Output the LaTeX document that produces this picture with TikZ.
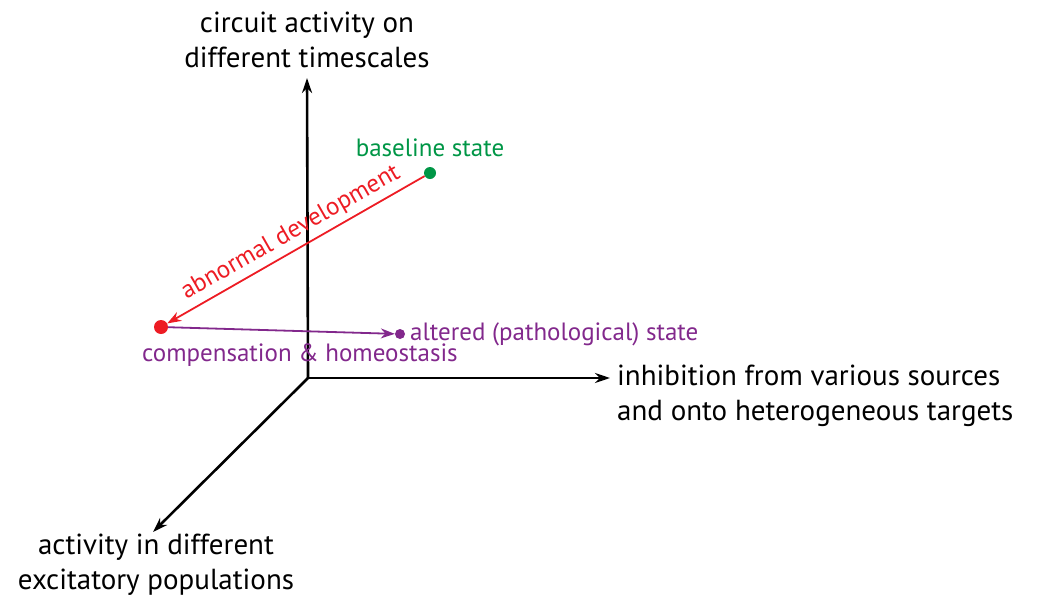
\documentclass[tikz,border=0pt]{standalone}
\usepackage{fontspec}
\setmainfont{PT Sans}
\usetikzlibrary{arrows.meta}
\definecolor{cgreen}{RGB}{0,150,70}
\definecolor{cred}{RGB}{237,28,36}
\definecolor{cpurple}{RGB}{130,40,140}
\begin{document}
\begin{tikzpicture}[x=1pt,y=-1pt,
  axis/.style={line width=2.6pt,-{Stealth[length=15pt,width=10pt]}},
  lbl/.style={font=\fontsize{29}{35}\selectfont,inner sep=0pt},
  clbl/.style={font=\fontsize{25}{30}\selectfont,inner sep=0pt},
  dot/.style={circle,inner sep=0pt,minimum size=#1},
  trans/.style={line width=1.8pt,-{Stealth[length=14pt,width=10pt]}}]
\useasboundingbox (0,0) rectangle (1037,600);
\coordinate (O) at (308,378);
\coordinate (Ytop) at (307,78);
\coordinate (Xend) at (610,378);
\coordinate (Zend) at (153,532);
\draw[axis] (O) -- (Ytop);
\draw[axis] (O) -- (Xend);
\draw[axis] (O) -- (Zend);
\node[lbl,align=center,anchor=south] (ylab) at (307,68) {circuit activity on\\different timescales};
\node[lbl,align=left,anchor=west] (xlab) at (617,396) {inhibition from various sources\\and onto heterogeneous targets};
\node[lbl,align=center,anchor=north] (zlab) at (156,534) {activity in different\\excitatory populations};
\node[dot=12pt,fill=cgreen] (base) at (430,173) {};
\node[dot=14pt,fill=cred] (abn) at (161,327) {};
\node[dot=10pt,fill=cpurple] (alt) at (400,334) {};
\node[clbl,text=cgreen,anchor=south] (basel) at (430,157) {baseline state};
\node[clbl,text=cpurple,anchor=west] (altl) at (410,334) {altered (pathological) state};
\node[clbl,text=cpurple,anchor=west] (compl) at (142,355) {compensation \& homeostasis};
\draw[trans,cred] (base) -- (abn) node[midway,above,sloped,clbl,text=cred,yshift=5pt,xshift=4pt] {abnormal development};
\draw[trans,cpurple] (abn) -- (alt);
\end{tikzpicture}
\end{document}
